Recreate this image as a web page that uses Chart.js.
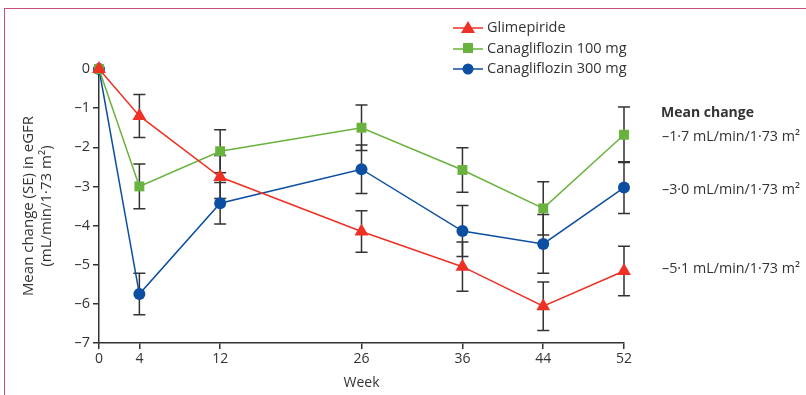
<!DOCTYPE html>
<html>
<head>
<meta charset="utf-8">
<script src="https://cdn.jsdelivr.net/npm/chart.js@4.4.1/dist/chart.umd.min.js"></script>
<style>
  body { margin: 0; background: #fff; font-family: "Open Sans", sans-serif; color: #333; }
  #wrap { position: relative; width: 806px; height: 395px; overflow: hidden; }
  #frame { position: absolute; left: 4px; top: 8px; width: 900px; height: 500px; border-top: 1px solid #c9507c; border-left: 1px solid #c9507c; }
  canvas { position: absolute; left: 0; top: 0; }
  .leg { position: absolute; left: 453px; font-size: 14.5px; line-height: 18px; white-space: nowrap; }
  .leg svg { vertical-align: middle; margin-right: 4px; }
  .note { position: absolute; left: 662px; font-size: 14.3px; white-space: nowrap; transform: translateY(-50%); }
</style>
</head>
<body>
<div id="wrap">
  <div id="frame"></div>
  <canvas id="chart" width="806" height="395"></canvas>
  <div id="legend"></div>
  <div class="note" style="top:111px;font-weight:bold;font-size:14px;left:661px;">Mean change</div>
  <div class="note" style="top:135px;">–1·7 mL/min/1·73 m²</div>
  <div class="note" style="top:188px;">–3·0 mL/min/1·73 m²</div>
  <div class="note" style="top:267px;">–5·1 mL/min/1·73 m²</div>
</div>
<script>
const weeks = [0, 4, 12, 26, 36, 44, 52];
const yTicks = [0, -1, -2, -3, -4, -5, -6, -7];

const glimepiride = [0, -1.2, -2.76, -4.15, -5.05, -6.06, -5.16];
const glimepirideSE = [0, 0.55, 0.55, 0.53, 0.63, 0.62, 0.63];

const cana100 = [0, -3.0, -2.1, -1.5, -2.58, -3.56, -1.68];
const cana100SE = [0, 0.57, 0.55, 0.58, 0.57, 0.68, 0.71];

const cana300 = [0, -5.75, -3.43, -2.56, -4.14, -4.47, -3.03];
const cana300SE = [0, 0.53, 0.53, 0.62, 0.65, 0.75, 0.66];

const series = [
  { label: "Glimepiride", data: glimepiride, se: glimepirideSE, color: "#ee3124", style: "triangle", radius: 8 },
  { label: "Canagliflozin 100 mg", data: cana100, se: cana100SE, color: "#6ab23e", style: "rect", radius: 7 },
  { label: "Canagliflozin 300 mg", data: cana300, se: cana300SE, color: "#0c4ea2", style: "circle", radius: 6 }
];

// Legenda em HTML
const legend = document.getElementById("legend");
series.forEach((s, i) => {
  const div = document.createElement("div");
  div.className = "leg";
  div.style.top = (18 + i * 20.5) + "px";
  let mark = "";
  if (s.style === "triangle") mark = `<polygon points="15,2 22,14 8,14" fill="${s.color}"/>`;
  else if (s.style === "rect") mark = `<rect x="10" y="3" width="10" height="10" fill="${s.color}"/>`;
  else mark = `<circle cx="15" cy="9" r="5.5" fill="${s.color}"/>`;
  div.innerHTML = `<svg width="30" height="18"><line x1="0" y1="9" x2="30" y2="9" stroke="${s.color}" stroke-width="1.5"/>${mark}</svg>${s.label}`;
  legend.appendChild(div);
});

// Barras de erro (SE)
const errorBars = {
  id: "errorBars",
  beforeDatasetsDraw(chart) {
    const { ctx, scales: { x, y } } = chart;
    ctx.save();
    ctx.strokeStyle = "#333";
    ctx.lineWidth = 1.5;
    series.forEach(s => {
      s.data.forEach((v, i) => {
        if (!s.se[i]) return;
        const px = x.getPixelForValue(weeks[i]);
        const top = y.getPixelForValue(v + s.se[i]);
        const bot = y.getPixelForValue(v - s.se[i]);
        ctx.beginPath();
        ctx.moveTo(px, top); ctx.lineTo(px, bot);
        ctx.moveTo(px - 6, top); ctx.lineTo(px + 6, top);
        ctx.moveTo(px - 6, bot); ctx.lineTo(px + 6, bot);
        ctx.stroke();
      });
    });
    ctx.restore();
  }
};

new Chart(document.getElementById("chart"), {
  type: "line",
  data: {
    datasets: series.map(s => ({
      label: s.label,
      data: s.data.map((v, i) => ({ x: weeks[i], y: v })),
      borderColor: s.color,
      backgroundColor: s.color,
      borderWidth: 1.5,
      pointStyle: s.style,
      pointRadius: s.radius,
      pointBorderWidth: 0,
      clip: false,
      tension: 0
    }))
  },
  options: {
    responsive: false,
    animation: false,
    layout: { padding: { left: 16, top: 69, right: 182, bottom: 0 } },
    plugins: { legend: { display: false }, tooltip: { enabled: false } },
    scales: {
      x: {
        type: "linear",
        min: 0,
        max: 52,
        afterBuildTicks: (scale) => { scale.ticks = weeks.map(v => ({ value: v })); },
        afterFit: (scale) => { scale.height = 52; },
        ticks: { color: "#333", font: { family: "Open Sans", size: 14 }, padding: 2, autoSkip: false, maxRotation: 0 },
        grid: { drawOnChartArea: false, drawTicks: true, tickLength: 6, color: "#333", lineWidth: 1.5 },
        border: { color: "#333", width: 1.5 },
        title: { display: true, text: "Week", color: "#333", font: { family: "Open Sans", size: 14 }, padding: { top: 0 } }
      },
      y: {
        min: -7,
        max: 0,
        afterBuildTicks: (scale) => { scale.ticks = yTicks.map(v => ({ value: v })); },
        afterFit: (scale) => { scale.width = 83; },
        ticks: {
          color: "#333", font: { family: "Open Sans", size: 14.5 }, padding: 3,
          callback: (v) => v === 0 ? "0" : "–" + Math.abs(v)
        },
        grid: { drawOnChartArea: false, drawTicks: true, tickLength: 6, color: "#333", lineWidth: 1.5 },
        border: { color: "#333", width: 1.5 },
        title: {
          display: true,
          text: ["Mean change (SE) in eGFR", "(mL/min/1·73 m²)"],
          color: "#333", font: { family: "Open Sans", size: 15 }, padding: { bottom: 4 }
        }
      }
    }
  },
  plugins: [errorBars]
});
</script>
</body>
</html>
